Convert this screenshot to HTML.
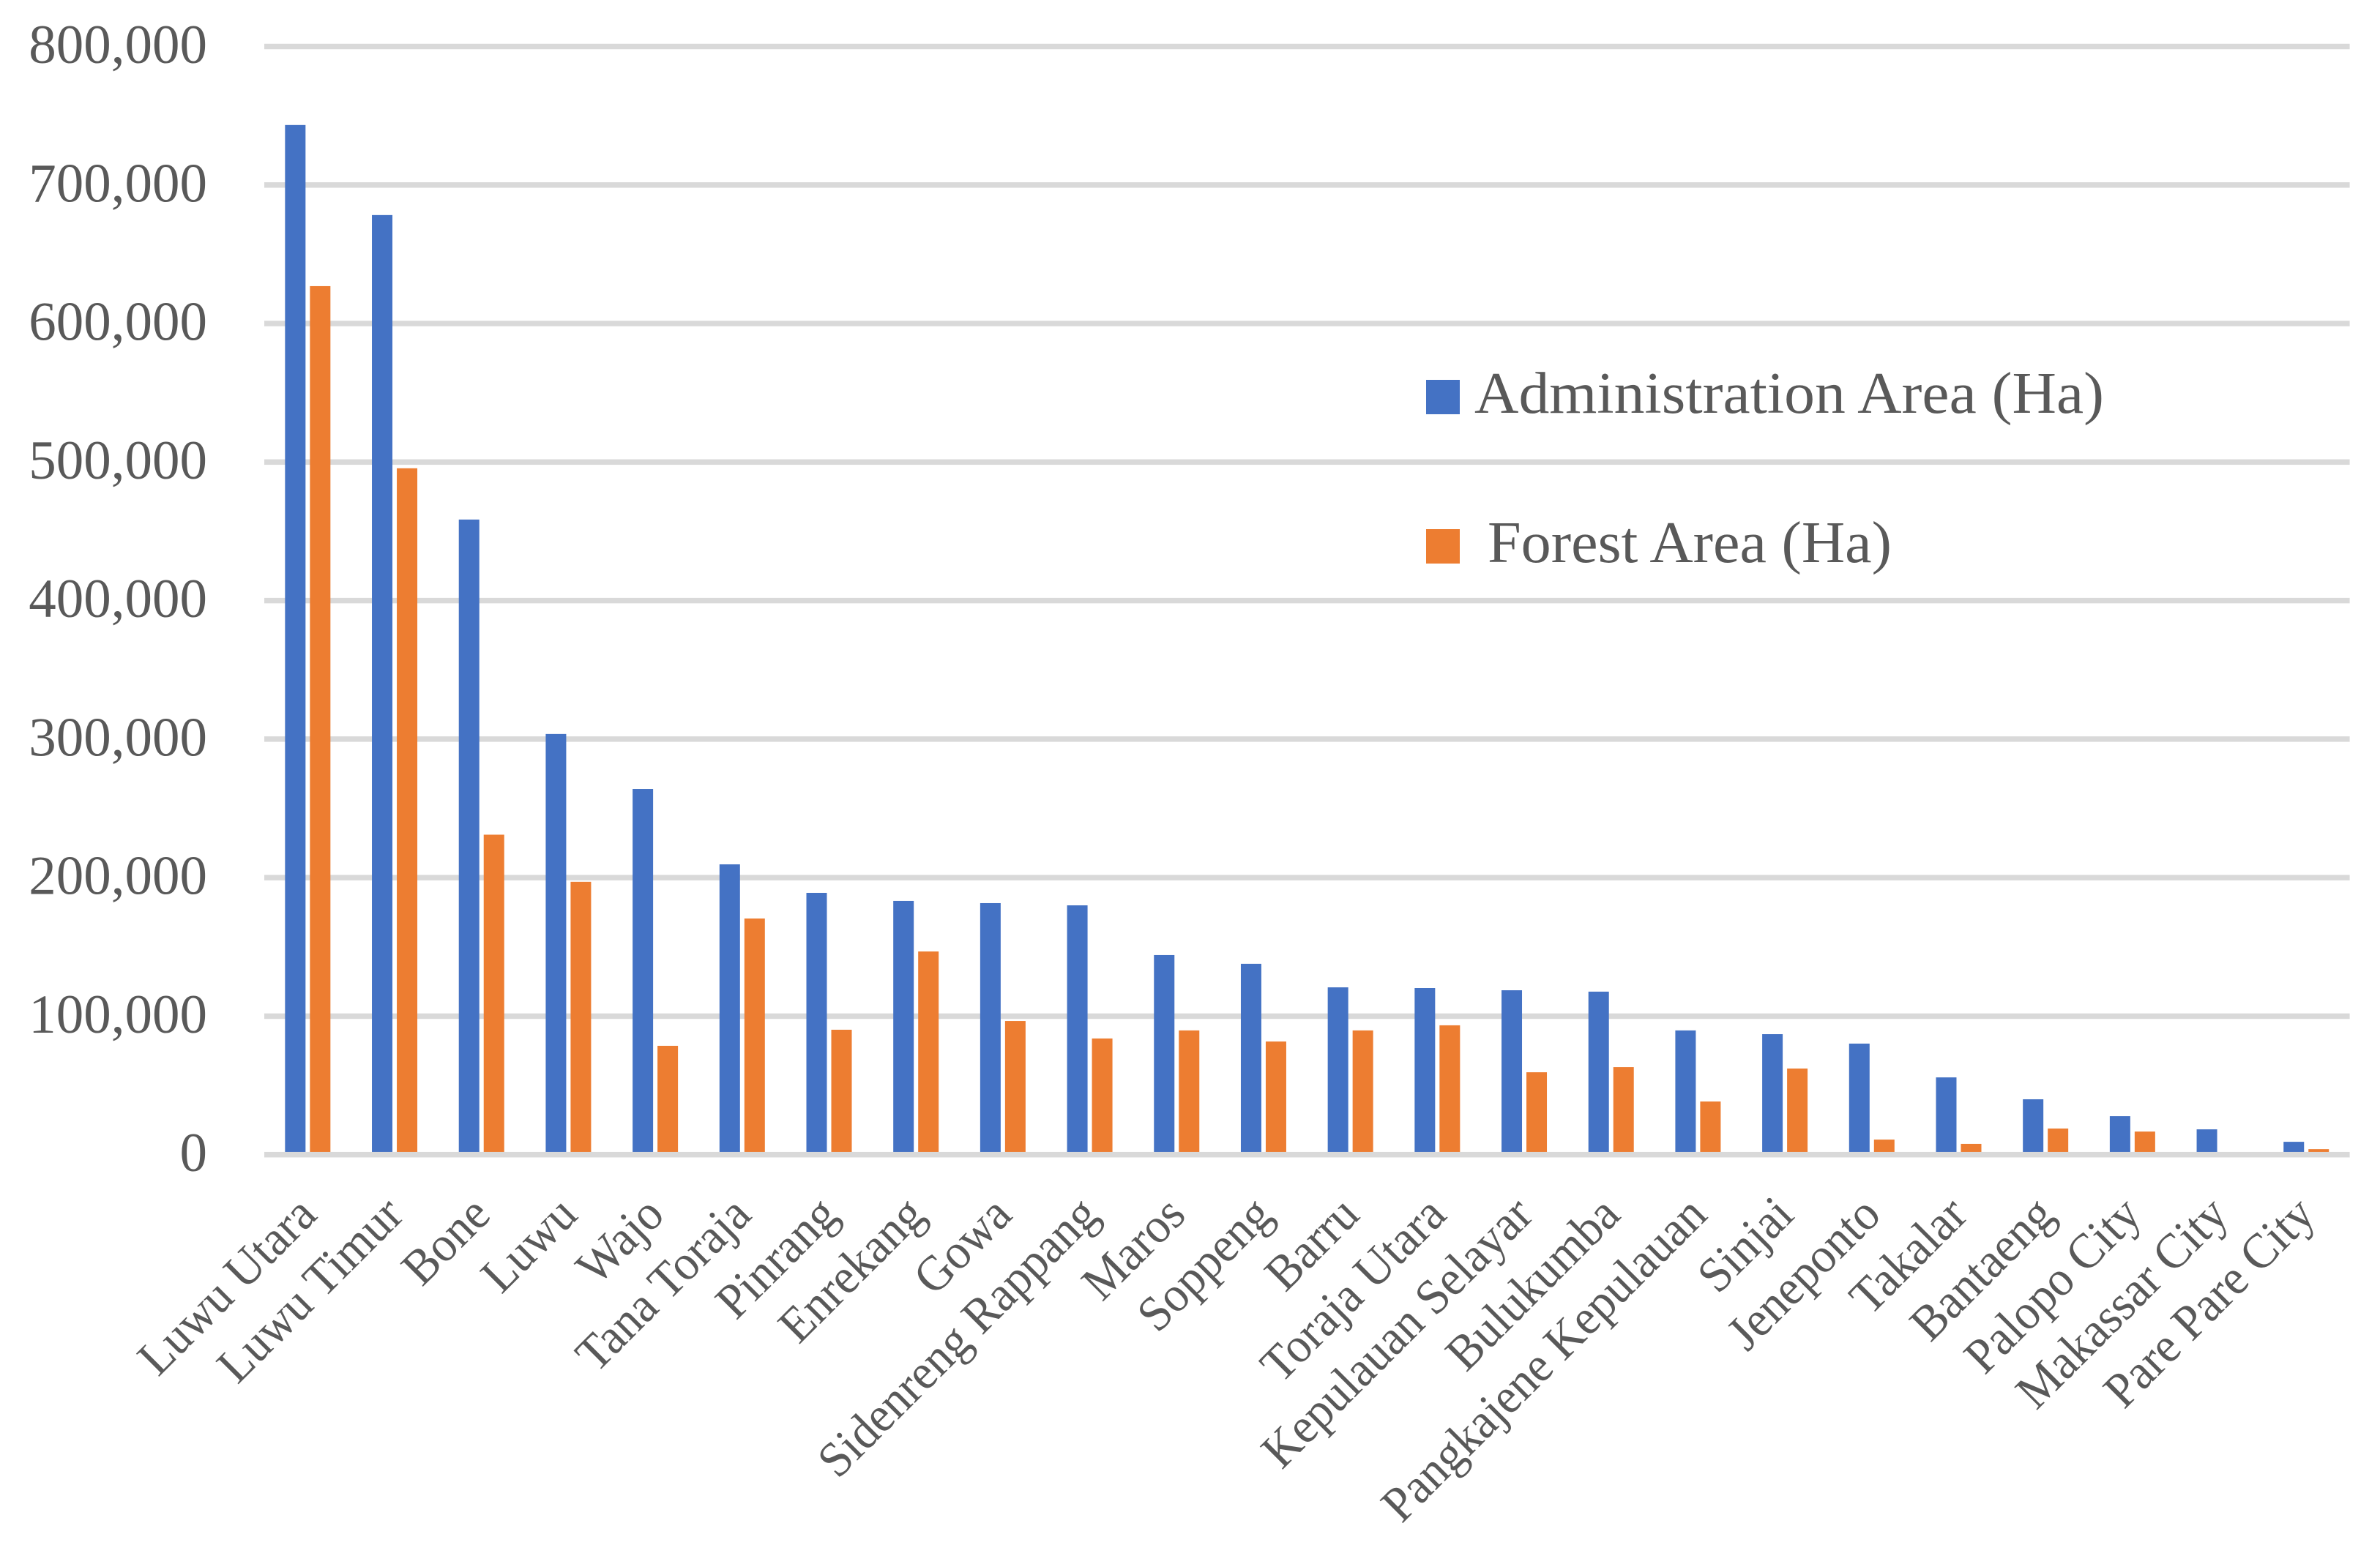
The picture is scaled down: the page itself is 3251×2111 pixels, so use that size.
<!DOCTYPE html>
<html lang="en">
<head>
<meta charset="utf-8">
<title>Administration Area and Forest Area by Regency</title>
<style>
html,body{margin:0;padding:0;background:#fff;}
svg{display:block;}
text{font-family:"Liberation Serif",serif;fill:#595959;}
</style>
</head>
<body>
<svg id="chart" xmlns="http://www.w3.org/2000/svg" width="3251" height="2111" viewBox="0 0 3251 2111">
  <rect x="0" y="0" width="3251" height="2111" fill="#ffffff"/>
  <g id="grid"></g>
  <g id="bars"></g>
  <g id="axis"></g>
  <g id="yticks"></g>
  <g id="xticks"></g>
  <g>
    <g>
      <rect x="1948" y="519" width="46" height="47" fill="#4472C4"/>
      <text x="2014" y="564" font-size="81" textLength="860" lengthAdjust="spacingAndGlyphs">Administration Area (Ha)</text>
    </g>
    <g>
      <rect x="1948" y="723" width="46" height="47" fill="#ED7D31"/>
      <text x="2032" y="768" font-size="81" textLength="552" lengthAdjust="spacingAndGlyphs">Forest Area (Ha)</text>
    </g>
  </g>
</svg>
<script>
const categories = ["Luwu Utara","Luwu Timur","Bone","Luwu","Wajo","Tana Toraja","Pinrang","Enrekang","Gowa","Sidenreng Rappang","Maros","Soppeng","Barru","Toraja Utara","Kepulauan Selayar","Bulukumba","Pangkajene Kepulauan","Sinjai","Jeneponto","Takalar","Bantaeng","Palopo City","Makassar City","Pare Pare City"];
const administrationArea = [743300,678300,458500,303700,264000,209600,189000,183200,181600,180000,144100,137800,120800,120300,118700,117700,89700,87000,80200,55800,40000,27800,18300,9300];
const forestArea = [627000,495500,231000,197000,78600,170500,90200,146700,96500,83900,89700,81700,89700,93400,59500,63200,38400,62200,10900,7800,18900,16700,0,4000];
const yTicks = [0,100000,200000,300000,400000,500000,600000,700000,800000];

const NS = 'http://www.w3.org/2000/svg';
const plotLeft = 361, plotRight = 3209.6, zeroY = 1577.7, topY = 63.5, yMax = 800000;
const barW = 28, barGap = 6, gridH = 7.5;
const yScale = v => zeroY - (v / yMax) * (zeroY - topY);
const bandW = (plotRight - plotLeft) / categories.length;
const xCenter = i => plotLeft + (i + 0.5) * bandW;
const slug = s => s.toLowerCase().replace(/\s+/g, '-');

function make(tag, parent, props) {
  const el = document.createElementNS(NS, tag);
  for (const k in props) el.setAttribute(k, props[k]);
  parent.appendChild(el);
  return el;
}

const gridG = document.getElementById('grid');
const axisG = document.getElementById('axis');
const ytG = document.getElementById('yticks');
yTicks.forEach(v => {
  const y = yScale(v);
  const line = make('rect', v === 0 ? axisG : gridG, {x: plotLeft, y: y - gridH / 2, width: plotRight - plotLeft, height: gridH, fill: '#D9D9D9'});
  
  
  const t = make('text', ytG, {x: 283, y: y + 22.5, 'font-size': 75, 'text-anchor': 'end'});
  t.textContent = v.toLocaleString('en-US');
  
  
});

const barsG = document.getElementById('bars');
categories.forEach((c, i) => {
  const cx = xCenter(i);
  const a = make('rect', barsG, {x: cx - barGap / 2 - barW, y: yScale(administrationArea[i]), width: barW, height: Math.max(0, zeroY - yScale(administrationArea[i])), fill: '#4472C4'});
  
  
  const f = make('rect', barsG, {x: cx + barGap / 2, y: yScale(forestArea[i]), width: barW, height: Math.max(0, zeroY - yScale(forestArea[i])), fill: '#ED7D31'});
  
  
});

const xtG = document.getElementById('xticks');
categories.forEach((c, i) => {
  const ax = xCenter(i) + 15, ay = 1663;
  const t = make('text', xtG, {x: 0, y: 0, 'font-size': 68, 'text-anchor': 'end', transform: 'translate(' + ax + ' ' + ay + ') rotate(-45) scale(0.95 1)'});
  t.textContent = c;
  
  
});
</script>
</body>
</html>
